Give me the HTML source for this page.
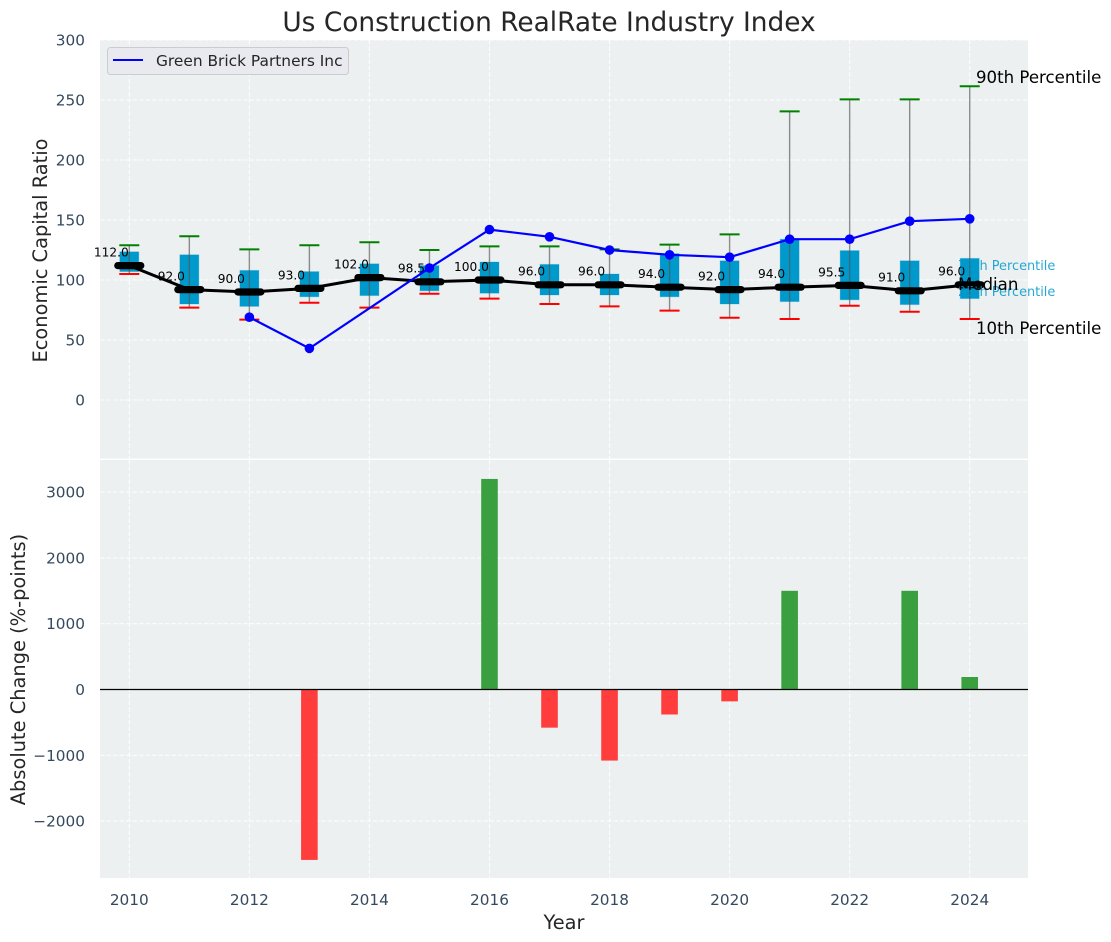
<!DOCTYPE html>
<html lang="en">
<head>
<meta charset="utf-8">
<title>Us Construction RealRate Industry Index</title>
<style>
html,body{margin:0;padding:0;background:#fff;width:1111px;height:942px;overflow:hidden}
svg{display:block}
text{font-family:"DejaVu Sans","Liberation Sans",sans-serif}
</style>
</head>
<body>
<svg id="chart" xmlns="http://www.w3.org/2000/svg" width="1111" height="942" viewBox="0 0 1111 942">
  <rect width="1111" height="942" fill="#ffffff"/>
  <rect x="100" y="40" width="928" height="418.5" fill="#ecf0f1"/>
  <rect x="100" y="460" width="928" height="418" fill="#ecf0f1"/>
  <g id="gridTop"></g>
  <g id="gridBottom"></g>
  <g id="boxes"></g>
  <g id="medians"></g>
  <g id="company"></g>
  <g id="bars"></g>
  <line x1="100" x2="1028" y1="689.5" y2="689.5" stroke="#000" stroke-width="1.3"/>
  <g id="ticks"></g>

  <text x="549" y="31" text-anchor="middle" font-size="26.4px" fill="#262626">Us Construction RealRate Industry Index</text>
  <text transform="translate(47,250.5) rotate(-90)" text-anchor="middle" font-size="19.4px" fill="#262626">Economic Capital Ratio</text>
  <text transform="translate(25,669.5) rotate(-90)" text-anchor="middle" font-size="19.4px" fill="#262626">Absolute Change (%-points)</text>
  <text x="564" y="929" text-anchor="middle" font-size="19.4px" fill="#262626">Year</text>

  <g>
    <rect x="107.5" y="47.5" width="241" height="27" rx="3" fill="#e9eaef" stroke="#cccccc" stroke-width="1"/>
    <line x1="113" x2="143" y1="60" y2="60" stroke="#0000ff" stroke-width="2"/>
    <text x="156" y="66" font-size="15.4px" fill="#262626">Green Brick Partners Inc</text>
  </g>

  <text x="976" y="83" font-size="16.6px" fill="#000">90th Percentile</text>
  <text x="958" y="270" font-size="12.9px" fill="#0099cc" fill-opacity="0.85">75th Percentile</text>
  <text x="958" y="296" font-size="12.9px" fill="#0099cc" fill-opacity="0.85">25th Percentile</text>
  <text x="958" y="290" font-size="16.6px" fill="#000">Median</text>
  <text x="976" y="334" font-size="16.6px" fill="#000">10th Percentile</text>
</svg>
<script>
const years = [2010,2011,2012,2013,2014,2015,2016,2017,2018,2019,2020,2021,2022,2023,2024];
const p90 = [129,136.5,125.5,129,131.5,125,128,128,125.5,129.5,138,240.5,250.5,250.5,261.5];
const p75 = [123.5,121,108,107,113.5,112,115,113,105,122,116,134,124.5,116,118];
const medianValues = [112,92,90,93,102,98.5,100,96,96,94,92,94,95.5,91,96];
const p25 = [107,80,78,86,87,91,89,87.5,87.5,86,80,82,83.5,79.5,84.5];
const p10 = [105,77,67,81,77,88.5,84.5,80,78,74.5,68.5,67.5,78.5,73.5,67.5];
const companyValues = [null,null,69,43,null,110,142,136,125,121,119,134,134,149,151];
const changeValues = [null,null,null,-2590,null,null,3200,-580,-1080,-380,-180,1500,null,1500,190];
const topTicks = [0,50,100,150,200,250,300];
const bottomTicks = [-2000,-1000,0,1000,2000,3000];
const xTicks = [2010,2012,2014,2016,2018,2020,2022,2024];

const NS = 'http://www.w3.org/2000/svg';
const xS = v => 129.3 + (v - 2010) * 60.03;
const yT = v => 400 - v * 1.2;
const yB = v => 689.5 - v * 0.0658;
function mk(tag, attrs, parent) {
  const el = document.createElementNS(NS, tag);
  for (const k in attrs) el.setAttribute(k, attrs[k]);
  parent.appendChild(el);
  return el;
}
const $ = id => document.getElementById(id);
const gridStyle = {stroke:'#ffffff','stroke-width':1.1,'stroke-dasharray':'4.5 2','stroke-opacity':0.85};

topTicks.forEach(t => {
  const l = mk('line', Object.assign({x1:100,x2:1028,y1:yT(t),y2:yT(t)}, gridStyle), $('gridTop'));
  
  
});
xTicks.forEach(t => {
  const l = mk('line', Object.assign({x1:xS(t),x2:xS(t),y1:40,y2:458.5}, gridStyle), $('gridTop'));
  
  
});
bottomTicks.forEach(t => {
  const l = mk('line', Object.assign({x1:100,x2:1028,y1:yB(t),y2:yB(t)}, gridStyle), $('gridBottom'));
  
  
});
xTicks.forEach(t => {
  const l = mk('line', Object.assign({x1:xS(t),x2:xS(t),y1:460,y2:878}, gridStyle), $('gridBottom'));
  
  
});

years.forEach((yr, i) => {
  const x = xS(yr);
  const box = mk('rect', {x:x-9.5,y:yT(p75[i]),width:19,height:yT(p25[i])-yT(p75[i]),fill:'#0099cc','stroke':'#0099cc','stroke-opacity':0.25,'stroke-width':1}, $('boxes'));
  
  
  const w = mk('line', {x1:x,x2:x,y1:yT(p90[i]),y2:yT(p10[i]),stroke:'#555555','stroke-opacity':0.65,'stroke-width':1.4}, $('boxes'));
  
  
  const c1 = mk('line', {x1:x-10,x2:x+10,y1:yT(p90[i]),y2:yT(p90[i]),stroke:'#008000','stroke-width':2}, $('boxes'));
  
  
  const c2 = mk('line', {x1:x-10,x2:x+10,y1:yT(p10[i]),y2:yT(p10[i]),stroke:'#ff0000','stroke-width':2}, $('boxes'));
  
  
});

const medLine = mk('polyline', {points:years.map((yr,i)=>xS(yr)+','+yT(medianValues[i])).join(' '),fill:'none',stroke:'#000','stroke-width':3}, $('medians'));


years.forEach((yr, i) => {
  const x = xS(yr), y = yT(medianValues[i]);
  const m = mk('line', {x1:x-11.5,x2:x+11.5,y1:y,y2:y,stroke:'#000','stroke-width':7.2,'stroke-linecap':'round'}, $('medians'));
  
  
  const t = mk('text', {x:x-18,y:y-9.1,'text-anchor':'middle','font-size':'12.2px',fill:'#000'}, $('medians'));
  
  
  t.textContent = medianValues[i].toFixed(1);
});

const pts = years.map((yr,i)=>[yr,companyValues[i]]).filter(p=>p[1]!==null);
const cl = mk('polyline', {points:pts.map(p=>xS(p[0])+','+yT(p[1])).join(' '),fill:'none',stroke:'#0000ff','stroke-width':2.2}, $('company'));


pts.forEach(p => {
  const d = mk('circle', {cx:xS(p[0]),cy:yT(p[1]),r:4.8,fill:'#0000ff'}, $('company'));
  
  
});

years.forEach((yr, i) => {
  const v = changeValues[i];
  if (v === null) return;
  const top = Math.min(yB(v), yB(0));
  const r = mk('rect', {x:xS(yr)-8.3,y:top,width:16.6,height:Math.abs(yB(v)-yB(0)),fill:v>=0?'#3a9f3e':'#ff3d3d'}, $('bars'));
  
  
});

const tickFill = '#34495e';
topTicks.forEach(t => {
  const e = mk('text', {x:85,y:yT(t)+5.5,'text-anchor':'end','font-size':'15.3px',fill:tickFill}, $('ticks'));
  
  
  e.textContent = String(t);
});
bottomTicks.forEach(t => {
  const e = mk('text', {x:85,y:yB(t)+5.5,'text-anchor':'end','font-size':'15.3px',fill:tickFill}, $('ticks'));
  
  
  e.textContent = String(t).replace('-', '\u2212');
});
xTicks.forEach(t => {
  const e = mk('text', {x:xS(t),y:905,'text-anchor':'middle','font-size':'15.3px',fill:tickFill}, $('ticks'));
  
  
  e.textContent = String(t);
});
</script>
</body>
</html>
